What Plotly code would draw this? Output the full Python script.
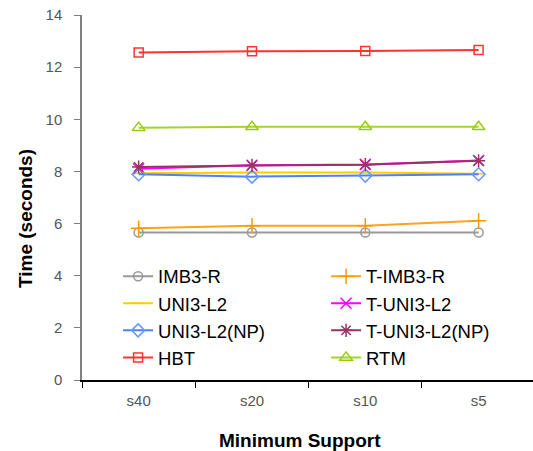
import plotly.graph_objects as go

categories = ["s40", "s20", "s10", "s5"]
series_names = ["IMB3-R", "T-IMB3-R", "UNI3-L2", "T-UNI3-L2", "UNI3-L2(NP)", "T-UNI3-L2(NP)", "HBT", "RTM"]
imb3_r = [5.66, 5.66, 5.66, 5.66]
t_imb3_r = [5.82, 5.92, 5.92, 6.11]
uni3_l2 = [7.93, 7.96, 7.96, 7.91]
t_uni3_l2 = [8.10, 8.24, 8.27, 8.42]
uni3_l2_np = [7.89, 7.80, 7.84, 7.89]
t_uni3_l2_np = [8.17, 8.23, 8.26, 8.41]
hbt = [12.56, 12.61, 12.62, 12.66]
rtm = [9.68, 9.71, 9.71, 9.71]

x_title = "Minimum Support"
y_title = "Time (seconds)"

values = [imb3_r, t_imb3_r, uni3_l2, t_uni3_l2, uni3_l2_np, t_uni3_l2_np, hbt, rtm]
colors = ["#999999", "#ffa31a", "#ffcc00", "#ff00ff", "#4d7fff", "#993366", "#ff3333", "#a6d22e"]
marker_colors = ["#999999", "#ff9900", "#ffcc00", "#ff00ff", "#6699ff", "#993366", "#ff3333", "#99cc00"]
symbols = ["circle-open", "cross-thin-open", "line-ew-open", "x-thin-open", "diamond-open",
           "asterisk-open", "square-open", "triangle-up-open"]
sizes = [9, 11, 8, 11, 10, 11, 9, 11]

fig = go.Figure()
for name, vals, c, mc, s, sz in zip(series_names, values, colors, marker_colors, symbols, sizes):
    fig.add_trace(go.Scatter(
        x=categories, y=vals, name=name, mode="lines+markers",
        line=dict(color=c, width=2),
        marker=dict(symbol=s, size=sz, color=mc, line=dict(color=mc, width=1.5)),
    ))

fig.update_layout(
    width=533, height=451,
    margin=dict(l=82, r=0, t=15, b=71, autoexpand=False),
    paper_bgcolor="white", plot_bgcolor="white",
    font=dict(family="Liberation Sans, Arial, sans-serif", color="#000"),
    showlegend=True,
    legend=dict(
        orientation="h", x=0.08, y=0.335, xanchor="left", yanchor="top",
        entrywidth=163, entrywidthmode="pixels",
        font=dict(size=18.5, color="#000"), bgcolor="rgba(0,0,0,0)",
        tracegroupgap=0, itemwidth=30,
    ),
    xaxis=dict(
        type="category", range=[-0.5, 3.48],
        showline=True, linecolor="#000", linewidth=1.5,
        ticks="outside", tickson="boundaries", ticklen=6, tickcolor="#000",
        tickfont=dict(size=15, color="#555"), showgrid=False, zeroline=False,
        ticklabelstandoff=6,
    ),
    yaxis=dict(
        range=[0, 14], dtick=2,
        showline=True, linecolor="#808080", linewidth=1.5,
        ticks="outside", ticklen=6, tickcolor="#808080",
        tickfont=dict(size=15, color="#555"), showgrid=False, zeroline=False,
        ticklabelstandoff=9,
    ),
    annotations=[
        dict(text="<b>" + x_title + "</b>", xref="paper", yref="paper",
             x=0.4823, y=-0.1644, xanchor="center", yanchor="middle",
             showarrow=False, font=dict(size=19, color="#000")),
        dict(text="<b>" + y_title + "</b>", xref="paper", yref="paper",
             x=-0.1264, y=0.4438, xanchor="center", yanchor="middle", textangle=-90,
             showarrow=False, font=dict(size=19, color="#000")),
    ],
)

fig.write_html("out.html")
